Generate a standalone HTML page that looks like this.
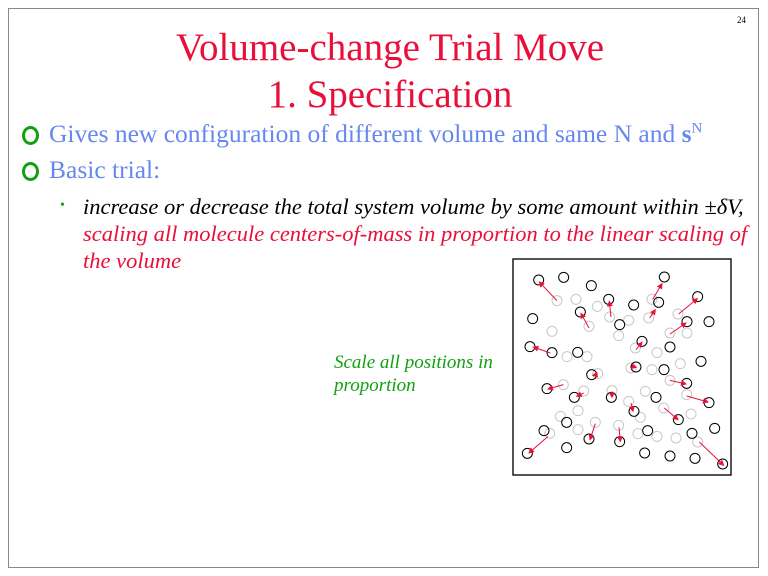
<!DOCTYPE html>
<html><head><style>
body{margin:0;width:768px;height:576px;background:#fff;position:relative;overflow:hidden;font-family:"Liberation Serif",serif}
.frame{position:absolute;left:8px;top:8px;width:751px;height:560px;border:1px solid #888;box-sizing:border-box}
.t{position:absolute;white-space:nowrap}
.title{color:#e8103a;font-size:39px;left:0;width:780px;text-align:center}
.b{color:#6688ee;font-size:25.5px;left:49px}
.o{position:absolute;left:22px;width:11px;height:13px;border:3px solid #10a010;border-radius:50%}
.i{font-style:italic;font-size:22.5px;left:83px}
</style></head><body>
<div class="frame"></div>
<div class="t" style="left:737px;top:15px;font-size:9px">24</div>
<div class="t title" style="top:25px">Volume-change Trial Move</div>
<div class="t title" style="top:72px">1. Specification</div>
<div class="o" style="top:126px"></div>
<div class="t b" style="top:119px">Gives new configuration of different volume and same N and <b>s</b><sup style="font-size:15px">N</sup></div>
<div class="o" style="top:162px"></div>
<div class="t b" style="top:155px">Basic trial:</div>
<div class="t" style="left:60px;top:198px;color:#10a010;font-size:14px">•</div>
<div class="t i" style="top:194px">increase or decrease the total system volume by some amount within ±<i>δV</i>,</div>
<div class="t i" style="top:221px;color:#e8103a">scaling all molecule centers-of-mass in proportion to the linear scaling of</div>
<div class="t i" style="top:248px;color:#e8103a">the volume</div>
<div class="t" style="left:334px;top:351px;color:#10a010;font-style:italic;font-size:19px;line-height:23px">Scale all positions in<br>proportion</div>
<svg style="position:absolute;left:512px;top:258px" width="220" height="218" viewBox="0 0 660 654">
<rect x="3" y="3" width="654" height="648" fill="none" stroke="#000" stroke-width="4"/>
<g fill="none" stroke="#c8c8c8" stroke-width="3">
<circle cx="135" cy="128" r="15"/><circle cx="192" cy="124" r="15"/><circle cx="256" cy="145" r="15"/><circle cx="420" cy="124" r="15"/><circle cx="498" cy="168" r="15"/><circle cx="293" cy="177" r="15"/><circle cx="350" cy="187" r="15"/><circle cx="410" cy="180" r="15"/><circle cx="231" cy="205" r="15"/><circle cx="120" cy="220" r="15"/><circle cx="320" cy="233" r="15"/><circle cx="474" cy="225" r="15"/><circle cx="525" cy="225" r="15"/><circle cx="165" cy="296" r="15"/><circle cx="225" cy="296" r="15"/><circle cx="370" cy="270" r="15"/><circle cx="435" cy="284" r="15"/><circle cx="505" cy="317" r="15"/><circle cx="357" cy="330" r="15"/><circle cx="420" cy="335" r="15"/><circle cx="257" cy="347" r="15"/><circle cx="474" cy="367" r="15"/><circle cx="154" cy="380" r="15"/><circle cx="215" cy="399" r="15"/><circle cx="300" cy="398" r="15"/><circle cx="400" cy="400" r="15"/><circle cx="524" cy="410" r="15"/><circle cx="198" cy="458" r="15"/><circle cx="350" cy="430" r="15"/><circle cx="455" cy="450" r="15"/><circle cx="145" cy="475" r="15"/><circle cx="385" cy="478" r="15"/><circle cx="537" cy="468" r="15"/><circle cx="250" cy="493" r="15"/><circle cx="198" cy="515" r="15"/><circle cx="320" cy="502" r="15"/><circle cx="113" cy="526" r="15"/><circle cx="378" cy="527" r="15"/><circle cx="435" cy="535" r="15"/><circle cx="492" cy="540" r="15"/><circle cx="557" cy="552" r="15"/>
</g>
<g fill="none" stroke="#000" stroke-width="3">
<circle cx="80" cy="66" r="15"/><circle cx="155" cy="58" r="15"/><circle cx="238" cy="83" r="15"/><circle cx="457" cy="57" r="15"/><circle cx="557" cy="116" r="15"/><circle cx="290" cy="124" r="15"/><circle cx="365" cy="141" r="15"/><circle cx="440" cy="133" r="15"/><circle cx="205" cy="162" r="15"/><circle cx="62" cy="182" r="15"/><circle cx="323" cy="200" r="15"/><circle cx="525" cy="191" r="15"/><circle cx="591" cy="191" r="15"/><circle cx="390" cy="250" r="15"/><circle cx="474" cy="267" r="15"/><circle cx="54" cy="266" r="15"/><circle cx="120" cy="284" r="15"/><circle cx="197" cy="283" r="15"/><circle cx="567" cy="310" r="15"/><circle cx="372" cy="327" r="15"/><circle cx="456" cy="335" r="15"/><circle cx="239" cy="350" r="15"/><circle cx="524" cy="376" r="15"/><circle cx="105" cy="392" r="15"/><circle cx="187" cy="418" r="15"/><circle cx="298" cy="418" r="15"/><circle cx="432" cy="418" r="15"/><circle cx="591" cy="434" r="15"/><circle cx="366" cy="460" r="15"/><circle cx="499" cy="485" r="15"/><circle cx="164" cy="493" r="15"/><circle cx="96" cy="518" r="15"/><circle cx="608" cy="511" r="15"/><circle cx="407" cy="518" r="15"/><circle cx="540" cy="526" r="15"/><circle cx="231" cy="543" r="15"/><circle cx="323" cy="551" r="15"/><circle cx="164" cy="569" r="15"/><circle cx="46" cy="586" r="15"/><circle cx="398" cy="585" r="15"/><circle cx="474" cy="594" r="15"/><circle cx="549" cy="601" r="15"/><circle cx="632" cy="618" r="15"/>
</g>
<defs><marker id="a" markerWidth="6" markerHeight="6" refX="5" refY="3" orient="auto"><path d="M0,0L6,3L0,6z" fill="#e8103a"/></marker></defs>
<g stroke="#e8103a" stroke-width="3" marker-end="url(#a)">
<line x1="135" y1="128" x2="82" y2="72"/><line x1="231" y1="210" x2="207" y2="166"/><line x1="297" y1="177" x2="292" y2="130"/><line x1="422" y1="124" x2="450" y2="77"/><line x1="413" y1="180" x2="430" y2="155"/><line x1="500" y1="168" x2="556" y2="122"/><line x1="474" y1="228" x2="522" y2="195"/><line x1="372" y1="275" x2="390" y2="253"/><line x1="115" y1="285" x2="64" y2="267"/><line x1="257" y1="350" x2="242" y2="352"/><line x1="360" y1="325" x2="373" y2="328"/><line x1="154" y1="380" x2="108" y2="393"/><line x1="215" y1="405" x2="194" y2="415"/><line x1="300" y1="400" x2="300" y2="418"/><line x1="474" y1="367" x2="522" y2="378"/><line x1="524" y1="414" x2="588" y2="432"/><line x1="357" y1="435" x2="363" y2="460"/><line x1="457" y1="450" x2="498" y2="485"/><line x1="250" y1="497" x2="234" y2="545"/><line x1="321" y1="508" x2="325" y2="550"/><line x1="108" y1="535" x2="51" y2="585"/><line x1="562" y1="552" x2="635" y2="622"/>
</g>
</svg>
</body></html>
